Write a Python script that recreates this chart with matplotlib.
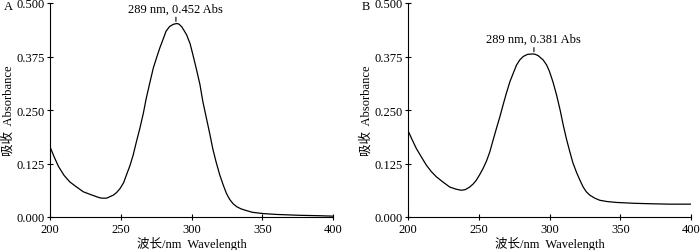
import numpy as np
import matplotlib.pyplot as plt

plt.rcParams['font.family'] = ['Liberation Serif', 'Noto Sans CJK SC']
plt.rcParams['font.size'] = 9

# spectrum A
wl_a = [200, 203, 206, 210, 214, 218, 223.5, 229, 235, 237, 240, 244.7, 247, 249.4, 252,
        254, 256.5, 258.8, 261, 263.5, 266, 268, 270.5, 273, 275.5, 277.6, 280, 282,
        284.5, 287, 289.4, 291, 293, 294.5, 296.5, 299, 301, 303.5, 306, 308, 310.6,
        313, 315, 317.5, 320, 322.5, 324.7, 327, 329.4, 332, 335, 338.8, 343, 350.6,
        360, 376, 390, 400]
abs_a = [0.164, 0.140, 0.118, 0.097, 0.082, 0.072, 0.059, 0.052, 0.045, 0.044, 0.044, 0.051,
         0.057, 0.066, 0.080, 0.098, 0.120, 0.145, 0.175, 0.207, 0.243, 0.277, 0.313, 0.348,
         0.374, 0.395, 0.416, 0.434, 0.445, 0.450, 0.452, 0.451, 0.445, 0.437, 0.426, 0.405,
         0.379, 0.345, 0.309, 0.270, 0.230, 0.193, 0.160, 0.127, 0.098, 0.074, 0.055, 0.041,
         0.031, 0.024, 0.019, 0.015, 0.011, 0.008, 0.006, 0.004, 0.003, 0.002]

# spectrum B
wl_b = [200, 203, 205.9, 209.5, 213, 216.5, 220, 225, 229.5, 234, 237.7, 240.5, 243.6,
        246, 248.3, 250.5, 253, 255.5, 257.8, 260, 262.5, 265, 267.2, 269.5, 272, 274.5,
        276.7, 279, 281.4, 284.5, 288, 290, 292, 295.5, 298, 300, 302.5, 305, 307.5, 309.7,
        312, 314.4, 316.5, 319, 321.5, 323.8, 326, 328.5, 332, 335.6, 341, 347.4, 360,
        371, 385, 400]
abs_b = [0.202, 0.180, 0.160, 0.140, 0.121, 0.106, 0.094, 0.081, 0.070, 0.065, 0.0625, 0.064,
         0.070, 0.077, 0.086, 0.098, 0.113, 0.131, 0.152, 0.178, 0.207, 0.235, 0.262, 0.289,
         0.316, 0.337, 0.355, 0.367, 0.375, 0.380, 0.381, 0.380, 0.377, 0.367, 0.355, 0.340,
         0.315, 0.285, 0.250, 0.215, 0.182, 0.152, 0.127, 0.105, 0.086, 0.070, 0.059, 0.051,
         0.044, 0.039, 0.036, 0.034, 0.032, 0.031, 0.030, 0.030]

peaks = [(289, 0.452), (289, 0.381)]
panels = ['A', 'B']
xticks = [200, 250, 300, 350, 400]
yticks = [0.000, 0.125, 0.250, 0.375, 0.500]

fig = plt.figure(figsize=(7.0, 2.51), dpi=100)
lefts = [50 / 700, 408 / 700]
data = [(wl_a, abs_a), (wl_b, abs_b)]
W, H = 700, 251

for i in range(2):
    ax = fig.add_axes([lefts[i], 33 / H, 283 / W, 214 / H])
    wl, ab = data[i]
    ax.plot(wl, ab, color='black', lw=0.9)
    ax.set_xlim(200, 400)
    ax.set_ylim(0, 0.5)
    ax.set_xticks(xticks)
    ax.set_yticks(yticks)
    ax.set_yticklabels(['%.3f' % v for v in yticks])
    ax.spines['top'].set_visible(False)
    ax.spines['right'].set_visible(False)
    ax.tick_params(direction='inout', length=4, width=0.8, pad=2)
    ax.set_xlabel('波长/nm  Wavelength', labelpad=1)
    # y label placed in figure pixels so it is not clipped
    fig.text(lefts[i] - 42 / W, 1 - 111 / H, '吸收  Absorbance', rotation=90,
             ha='center', va='center')
    px, py = peaks[i]
    ax.annotate('%d nm, %.3f Abs' % (px, py), xy=(px, py + 0.005), xytext=(0, 5),
                textcoords='offset points', ha='center', va='bottom',
                arrowprops=dict(arrowstyle='-', color='black', lw=0.8, shrinkA=0, shrinkB=0))
    fig.text(lefts[i] - 46 / W, 1 - 7 / H, panels[i], va='center')

fig.savefig('out.png', dpi=100)
